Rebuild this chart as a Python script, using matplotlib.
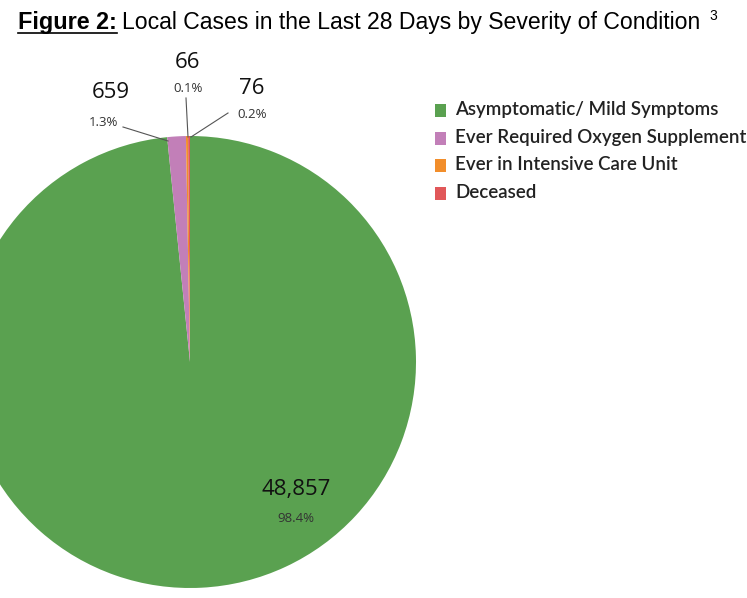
import matplotlib
matplotlib.use("Agg")
import matplotlib.pyplot as plt

W, H = 747, 598

categories = ["Asymptomatic/ Mild Symptoms", "Ever Required Oxygen Supplement",
              "Ever in Intensive Care Unit", "Deceased"]
counts = [48857, 659, 76, 66]
percents = ["98.4%", "1.3%", "0.2%", "0.1%"]
colors = ["#5aa150", "#c27fb8", "#f28e2b", "#e15759"]

fig = plt.figure(figsize=(W / 100, H / 100), dpi=100)
ax = fig.add_axes([0, 0, 1, 1])


def Y(py):
    # convert pixel row (from top) to axis y
    return H - py


cx, cy, r = 190, 362, 226
ax.pie(counts, colors=colors, startangle=90, counterclock=False,
       center=(cx, Y(cy)), radius=r, frame=True,
       wedgeprops=dict(linewidth=0))
ax.set_xlim(0, W)
ax.set_ylim(0, H)
ax.set_aspect("equal")
ax.axis("off")

num_font = dict(family="Open Sans", fontsize=16, color="#111111", ha="center", va="center")
pct_font = dict(family="Open Sans", fontsize=9.5, color="#333333", ha="center", va="center")

# data labels: (count, pct, number xy, pct xy)
labels = [
    (counts[0], percents[0], (296, 490), (296, 519)),
    (counts[1], percents[1], (111, 93), (103, 123)),
    (counts[3], percents[3], (188, 62), (188, 88)),
    (counts[2], percents[2], (252, 88), (252, 115)),
]
for n, p, (nx, ny), (px, py) in labels:
    ax.text(nx, Y(ny), f"{n:,}", **num_font)
    ax.text(px, Y(py), p, **pct_font)

# leader lines
ax.plot([123, 168], [Y(127), Y(141)], color="#555555", lw=0.8)
ax.plot([186, 188], [Y(98), Y(137)], color="#555555", lw=0.8)
ax.plot([228, 191], [Y(113), Y(137)], color="#555555", lw=0.8)

# legend
for i, (lab, col) in enumerate(zip(categories, colors)):
    yy = 110 + i * 27.5
    ax.add_patch(plt.Rectangle((435, Y(yy + 7)), 11, 13, color=col, lw=0))
    ax.text(455, Y(yy), lab, family="Lato", fontsize=13.5, fontweight="semibold",
            color="#222222", ha="left", va="center", clip_on=False)

# title
ax.text(18, Y(22), "Figure 2:", family="Liberation Sans", fontsize=16.8,
        fontweight="bold", ha="left", va="center")
ax.plot([18, 117], [Y(33), Y(33)], color="black", lw=1.2)
ax.text(122, Y(22), "Local Cases in the Last 28 Days by Severity of Condition",
        family="Liberation Sans", fontsize=16.6, ha="left", va="center")
ax.text(709, Y(16), "3", family="Liberation Sans", fontsize=10, ha="left", va="center")

fig.savefig("out.png", dpi=100, facecolor="white")
